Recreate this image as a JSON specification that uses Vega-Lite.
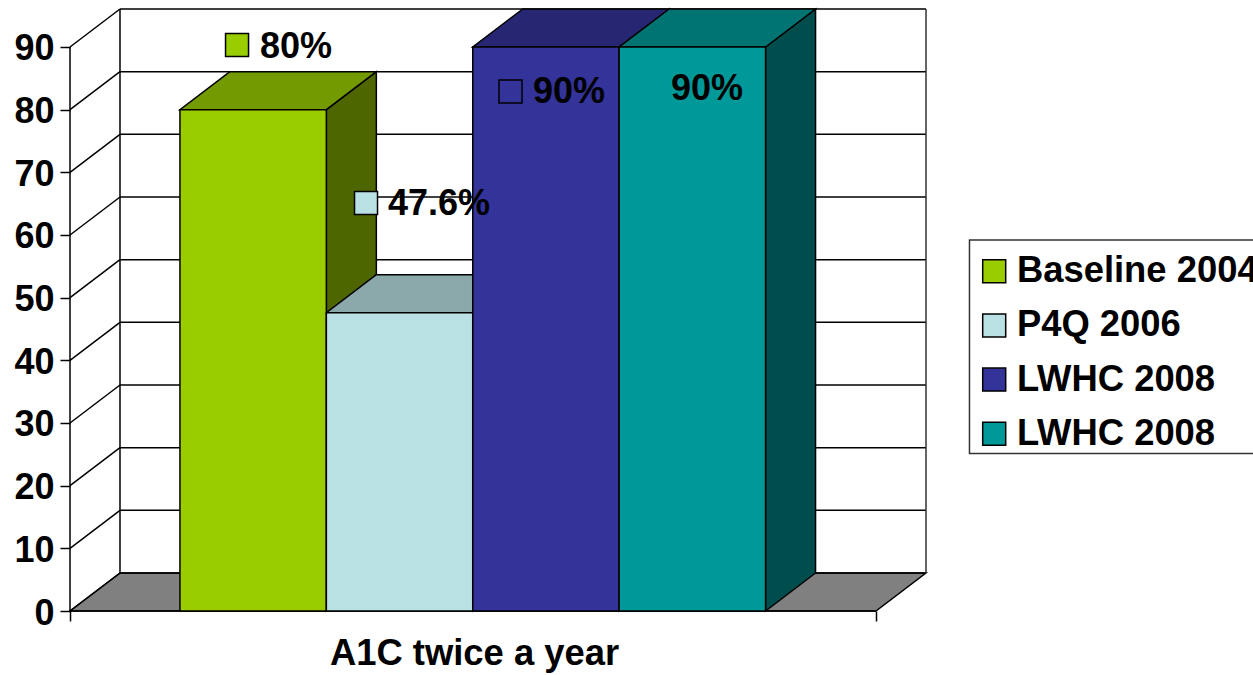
{
  "$schema": "https://vega.github.io/schema/vega-lite/v6.json",
  "autosize": {"type": "none"},
  "width": 856,
  "height": 602,
  "padding": {"left": 70, "top": 9, "right": 327, "bottom": 64},
  "background": "white",
  "view": {"stroke": null},
  "config": {"font": "Liberation Sans"},
  "datasets": {
    "bars": [
      {"series": "Baseline 2004", "value": 80, "label": "80%"},
      {"series": "P4Q 2006", "value": 47.6, "label": "47.6%"},
      {"series": "LWHC 2008", "value": 90, "label": "90%"},
      {"series": "LWHC 2008 ", "value": 90, "label": "90%"}
    ],
    "ticks": [
      {"tick": 0}, {"tick": 10}, {"tick": 20}, {"tick": 30}, {"tick": 40},
      {"tick": 50}, {"tick": 60}, {"tick": 70}, {"tick": 80}, {"tick": 90}
    ],
    "depths": [{"depth": 0}, {"depth": 1}],
    "frame": [{"part": "frame"}]
  },
  "layer": [
    {
      "data": {"name": "depths"},
      "transform": [
        {"calculate": "datum.depth * 0.3415", "as": "x0"},
        {"calculate": "5.505 + datum.depth * 0.3415", "as": "x1"},
        {"calculate": "datum.depth * 6.064", "as": "yf"}
      ],
      "mark": {"type": "area", "orient": "horizontal", "fill": "#808080", "stroke": "black", "strokeWidth": 1.5},
      "encoding": {
        "x": {
          "field": "x0", "type": "quantitative", "stack": null,
          "scale": {"domain": [0, 5.847], "nice": false, "zero": false},
          "axis": {
            "values": [0, 5.505], "labels": false, "domain": false, "grid": false,
            "tickColor": "black", "tickSize": 10, "tickWidth": 1.5,
            "title": "A1C twice a year", "titleFont": "Liberation Sans", "titleFontSize": 36.4,
            "titleFontWeight": "bold", "titleColor": "black", "titleAlign": "center",
            "titleBaseline": "alphabetic", "titleX": 404, "titleY": 53.5
          }
        },
        "x2": {"field": "x1"},
        "y": {
          "field": "yf", "type": "quantitative", "stack": null,
          "scale": {"domain": [0, 96.06], "nice": false, "zero": false},
          "axis": {
            "values": [0, 10, 20, 30, 40, 50, 60, 70, 80, 90], "domain": false, "grid": false,
            "tickColor": "black", "tickSize": 10, "tickWidth": 1.5, "labelPadding": 6, "labelOffset": 2,
            "labelFont": "Liberation Sans", "labelFontSize": 36, "labelFontWeight": "bold",
            "labelColor": "black", "title": null
          }
        }
      }
    },
    {
      "data": {"name": "ticks"},
      "transform": [
        {"calculate": "datum.tick + 6.064", "as": "back"},
        {"calculate": "0.3415", "as": "wallX"},
        {"calculate": "5.847", "as": "wallEnd"},
        {"calculate": "0", "as": "frontX"}
      ],
      "layer": [
        {
          "mark": {"type": "rule", "color": "black", "strokeWidth": 1.5},
          "encoding": {
            "x": {"field": "frontX", "type": "quantitative", "axis": null},
            "x2": {"field": "wallX"},
            "y": {"field": "tick", "type": "quantitative", "axis": null},
            "y2": {"field": "back"}
          }
        },
        {
          "mark": {"type": "rule", "color": "black", "strokeWidth": 1.5},
          "encoding": {
            "x": {"field": "wallX", "type": "quantitative", "axis": null},
            "x2": {"field": "wallEnd"},
            "y": {"field": "back", "type": "quantitative", "axis": null}
          }
        }
      ]
    },
    {
      "data": {"name": "frame"},
      "mark": {"type": "rule", "color": "black", "strokeWidth": 1.5},
      "encoding": {
        "x": {"datum": 0, "type": "quantitative", "axis": null},
        "y": {"datum": 0, "type": "quantitative", "axis": null},
        "y2": {"datum": 90}
      }
    },
    {
      "data": {"name": "frame"},
      "mark": {"type": "rule", "color": "black", "strokeWidth": 1.5},
      "encoding": {
        "x": {"datum": 0.3415, "type": "quantitative", "axis": null},
        "y": {"datum": 6.064, "type": "quantitative", "axis": null},
        "y2": {"datum": 96.06}
      }
    },
    {
      "data": {"name": "frame"},
      "mark": {"type": "rule", "color": "#333333", "strokeWidth": 1.5},
      "encoding": {
        "x": {"datum": 5.847, "type": "quantitative", "axis": null},
        "y": {"datum": 6.064, "type": "quantitative", "axis": null},
        "y2": {"datum": 96.06}
      }
    },
    {
      "data": {"name": "frame"},
      "mark": {"type": "rule", "color": "black", "strokeWidth": 1.5},
      "encoding": {
        "x": {"datum": 0, "type": "quantitative", "axis": null},
        "x2": {"datum": 5.505},
        "y": {"datum": 0, "type": "quantitative", "axis": null}
      }
    },
    {
      "data": {"name": "bars"},
      "transform": [
        {"calculate": "0.751 + indexof(['Baseline 2004', 'P4Q 2006', 'LWHC 2008', 'LWHC 2008 '], datum.series)", "as": "pos"},
        {"calculate": "[0, 1]", "as": "depth"},
        {"flatten": ["depth"]},
        {"calculate": "datum.pos + 1 + datum.depth * 0.3415", "as": "sx"},
        {"calculate": "datum.value + datum.depth * 6.064", "as": "sTop"},
        {"calculate": "datum.depth * 6.064", "as": "sBottom"}
      ],
      "mark": {"type": "area", "stroke": "black", "strokeWidth": 1.5},
      "encoding": {
        "x": {"field": "sx", "type": "quantitative", "axis": null},
        "y": {"field": "sTop", "type": "quantitative", "stack": null, "axis": null},
        "y2": {"field": "sBottom"},
        "color": {
          "field": "series", "type": "nominal", "legend": null,
          "scale": {
            "domain": ["Baseline 2004", "P4Q 2006", "LWHC 2008", "LWHC 2008 "],
            "range": ["#4D6600", "#5C7072", "#1A1A4D", "#004D4D"]
          }
        }
      }
    },
    {
      "data": {"name": "bars"},
      "transform": [
        {"calculate": "0.751 + indexof(['Baseline 2004', 'P4Q 2006', 'LWHC 2008', 'LWHC 2008 '], datum.series)", "as": "pos"},
        {"calculate": "[0, 1]", "as": "depth"},
        {"flatten": ["depth"]},
        {"calculate": "datum.pos + datum.depth * 0.3415", "as": "tx0"},
        {"calculate": "datum.pos + 1 + datum.depth * 0.3415", "as": "tx1"},
        {"calculate": "datum.value + datum.depth * 6.064", "as": "ty"}
      ],
      "mark": {"type": "area", "orient": "horizontal", "stroke": "black", "strokeWidth": 1.5},
      "encoding": {
        "x": {"field": "tx0", "type": "quantitative", "stack": null, "axis": null},
        "x2": {"field": "tx1"},
        "y": {"field": "ty", "type": "quantitative", "axis": null},
        "color": {
          "field": "series", "type": "nominal", "legend": null,
          "scale": {
            "domain": ["Baseline 2004", "P4Q 2006", "LWHC 2008", "LWHC 2008 "],
            "range": ["#739A00", "#8BA8AA", "#262673", "#007373"]
          }
        }
      }
    },
    {
      "data": {"name": "frame"},
      "mark": {"type": "rect", "fill": "white", "stroke": "#333333", "strokeWidth": 1.5},
      "encoding": {
        "x": {"datum": 6.144, "type": "quantitative", "axis": null},
        "x2": {"datum": 8.5},
        "y": {"datum": 59.2, "type": "quantitative", "axis": null},
        "y2": {"datum": 25.13}
      }
    },
    {
      "data": {"name": "bars"},
      "transform": [
        {"calculate": "0.751 + indexof(['Baseline 2004', 'P4Q 2006', 'LWHC 2008', 'LWHC 2008 '], datum.series)", "as": "pos"},
        {"calculate": "datum.pos + 1", "as": "pos1"},
        {"calculate": "0", "as": "base"}
      ],
      "mark": {"type": "rect", "stroke": "black", "strokeWidth": 1.5},
      "encoding": {
        "x": {"field": "pos", "type": "quantitative", "axis": null},
        "x2": {"field": "pos1"},
        "y": {"field": "value", "type": "quantitative", "axis": null},
        "y2": {"field": "base"},
        "color": {
          "field": "series", "type": "nominal", "sort": null,
          "scale": {
            "domain": ["Baseline 2004", "P4Q 2006", "LWHC 2008", "LWHC 2008 "],
            "range": ["#9ACD00", "#B9E0E3", "#333399", "#009999"]
          },
          "legend": {
            "title": null, "orient": "none", "legendX": 906, "legendY": 244,
            "symbolType": "square", "symbolSize": 529, "symbolStrokeColor": "black",
            "symbolStrokeWidth": 1.5, "symbolOpacity": 1, "labelFont": "Liberation Sans",
            "labelFontSize": 36.4, "labelFontWeight": "bold", "labelColor": "black",
            "labelLimit": 0, "labelOffset": 4.5, "rowPadding": 17.2, "padding": 0
          }
        }
      }
    },
    {
      "data": {"name": "bars"},
      "transform": [
        {"calculate": "{'Baseline 2004': 1.298, 'P4Q 2006': 2.172, 'LWHC 2008': 3.163, 'LWHC 2008 ': 4.105}[datum.series]", "as": "lx"},
        {"calculate": "{'Baseline 2004': 90.0, 'P4Q 2006': 64.95, 'LWHC 2008': 82.8, 'LWHC 2008 ': 83.25}[datum.series]", "as": "ly"}
      ],
      "mark": {"type": "text", "align": "left", "baseline": "middle", "font": "Liberation Sans", "fontSize": 36, "fontWeight": "bold", "color": "black"},
      "encoding": {
        "x": {"field": "lx", "type": "quantitative", "axis": null},
        "y": {"field": "ly", "type": "quantitative", "axis": null},
        "text": {"field": "label"}
      }
    },
    {
      "data": {"name": "bars"},
      "transform": [
        {"filter": "datum.series !== 'LWHC 2008 '"},
        {"calculate": "{'Baseline 2004': 1.141, 'P4Q 2006': 2.022, 'LWHC 2008': 3.009}[datum.series]", "as": "kx"},
        {"calculate": "{'Baseline 2004': 90.3, 'P4Q 2006': 65.1, 'LWHC 2008': 82.9}[datum.series]", "as": "ky"}
      ],
      "mark": {"type": "point", "shape": "square", "filled": true, "opacity": 1, "size": 529, "stroke": "black", "strokeWidth": 1.5},
      "encoding": {
        "x": {"field": "kx", "type": "quantitative", "axis": null},
        "y": {"field": "ky", "type": "quantitative", "axis": null},
        "color": {
          "field": "series", "type": "nominal", "legend": null,
          "scale": {
            "domain": ["Baseline 2004", "P4Q 2006", "LWHC 2008", "LWHC 2008 "],
            "range": ["#9ACD00", "#B9E0E3", "#333399", "#009999"]
          }
        }
      }
    }
  ],
  "resolve": {
    "scale": {"color": "independent"},
    "axis": {"x": "independent", "y": "independent"}
  }
}
